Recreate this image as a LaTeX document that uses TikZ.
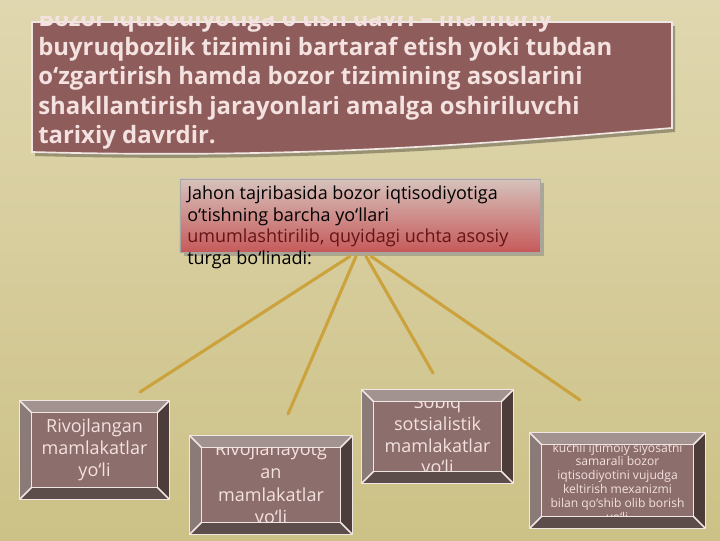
\documentclass[tikz,border=0pt]{standalone}
\usepackage{fontspec}
\setmainfont{Open Sans}
\usetikzlibrary{shadows}

\definecolor{slidebg}{RGB}{224,215,176}
\definecolor{slidebgdark}{RGB}{204,193,134}
\definecolor{plum}{RGB}{142,92,90}
\definecolor{rope}{RGB}{204,162,60}
\definecolor{facecol}{RGB}{140,110,108}
\definecolor{bevtop}{RGB}{162,146,144}
\definecolor{bevleft}{RGB}{138,122,120}
\definecolor{bevright}{RGB}{76,60,58}
\definecolor{bevbot}{RGB}{92,76,74}
\definecolor{rim}{RGB}{240,230,228}
\definecolor{palepink}{RGB}{244,226,224}
\definecolor{darkred}{RGB}{100,20,22}
\definecolor{rosetop}{RGB}{214,194,188}
\definecolor{rosebot}{RGB}{198,90,90}

\tikzset{
  face/.style={fill=facecol, inner sep=0pt},
  boxtext/.style={align=center, text=palepink, inner sep=0pt,
                  font=\fontsize{12.8}{15.5}\selectfont},
  link/.style={draw=rope, line width=2.2pt, line cap=round},
  rimline/.style={draw=rim, line width=1.1pt},
}

\begin{document}
\begin{tikzpicture}[x=0.025cm, y=-0.025cm]
\useasboundingbox (0,0) rectangle (720,540);
\shade[top color=slidebg, bottom color=slidebgdark] (0,0) rectangle (720,540);

% title banner
\fill[black, opacity=.3] (35,26) -- (675,26) -- (675,132)
     .. controls (523,144) and (333,164) .. (35,156) -- cycle;
\filldraw[fill=plum, draw=rim, line width=1.2pt] (32,22) -- (672,22) -- (672,128)
     .. controls (520,140) and (330,160) .. (32,152) -- cycle;
\begin{scope}
\clip (0,16) rectangle (720,540);
\node[anchor=north west, align=left, inner sep=0pt, text=palepink,
      font=\bfseries\fontsize{17}{20.8}\selectfont] (title) at (38,8)
  {Bozor iqtisodiyotiga o‘tish davri – ma’muriy\\
   buyruqbozlik tizimini bartaraf etish yoki tubdan\\
   o‘zgartirish hamda bozor tizimining asoslarini\\
   shakllantirish jarayonlari amalga oshiriluvchi\\
   tarixiy davrdir.};
\end{scope}

% middle box
\node[draw=gray!70, top color=rosetop, bottom color=rosebot, drop shadow,
      minimum width=9cm, minimum height=1.825cm] (jahon) at (360,215.5) {};
\node[anchor=north west, align=left, inner sep=0pt,
      font=\fontsize{12.8}{15.3}\selectfont] (jahontext) at (187,186)
  {Jahon tajribasida bozor iqtisodiyotiga\\
   o‘tishning barcha yo‘llari\\
   {\color{darkred}umumlashtirilib, quyidagi uchta asosiy}\\
   turga bo‘linadi:};

% connectors
\coordinate (e1) at (140,392);
\coordinate (e2) at (288,414);
\coordinate (e3) at (433,373);
\coordinate (e4) at (580,400);
\foreach \dx/\e in {-10/e1, -4/e2, 6/e3, 11/e4}
  \draw[link] ([shift={(\dx,4)}]jahon.south) -- (\e);

% bottom boxes
\node[face, minimum width=3.125cm, minimum height=1.85cm] (rivo) at (94.5,450) {};
\node[face, minimum width=3.45cm, minimum height=1.85cm] (rivoy) at (271,485) {};
\node[face, minimum width=3.175cm, minimum height=1.725cm] (sobiq) at (437.5,436.5) {};
\node[face, minimum width=3.775cm, minimum height=1.775cm] (ijtimoiy) at (617.5,480.5) {};

\node[boxtext] (rivo-t) at (rivo) {Rivojlangan\\mamlakatlar\\yo‘li};
\node[boxtext, font=\fontsize{12.8}{16.2}\selectfont] (rivoy-t) at (rivoy)
  {Rivojlanayotg\\an\\mamlakatlar\\yo‘li};
\node[boxtext] (sobiq-t) at (sobiq) {Sobiq\\sotsialistik\\mamlakatlar\\yo‘li};
\node[boxtext, font=\fontsize{8.6}{9.8}\selectfont] (ijtimoiy-t) at (617.5,483.5)
  {kuchli ijtimoiy siyosatni\\samarali bozor\\iqtisodiyotini vujudga\\
   keltirish mexanizmi\\bilan qo‘shib olib borish\\yo‘li};

\foreach \b in {rivo,rivoy,sobiq,ijtimoiy} {
  \fill[bevtop] ([shift={(-12,-12)}]\b.north west) -- ([shift={(12,-12)}]\b.north east)
     -- (\b.north east) -- (\b.north west) -- cycle;
  \fill[bevleft] ([shift={(-12,-12)}]\b.north west) -- (\b.north west)
     -- (\b.south west) -- ([shift={(-12,12)}]\b.south west) -- cycle;
  \fill[bevright] ([shift={(12,-12)}]\b.north east) -- ([shift={(12,12)}]\b.south east)
     -- (\b.south east) -- (\b.north east) -- cycle;
  \fill[bevbot] ([shift={(-12,12)}]\b.south west) -- (\b.south west)
     -- (\b.south east) -- ([shift={(12,12)}]\b.south east) -- cycle;
  \draw[rimline] ([shift={(-12,-12)}]\b.north west) rectangle ([shift={(12,12)}]\b.south east);
  \draw[rimline] (\b.north west) rectangle (\b.south east);
  \draw[rimline] ([shift={(-12,-12)}]\b.north west) -- (\b.north west)
        ([shift={(12,-12)}]\b.north east) -- (\b.north east)
        ([shift={(-12,12)}]\b.south west) -- (\b.south west)
        ([shift={(12,12)}]\b.south east) -- (\b.south east);
}
\end{tikzpicture}
\end{document}
